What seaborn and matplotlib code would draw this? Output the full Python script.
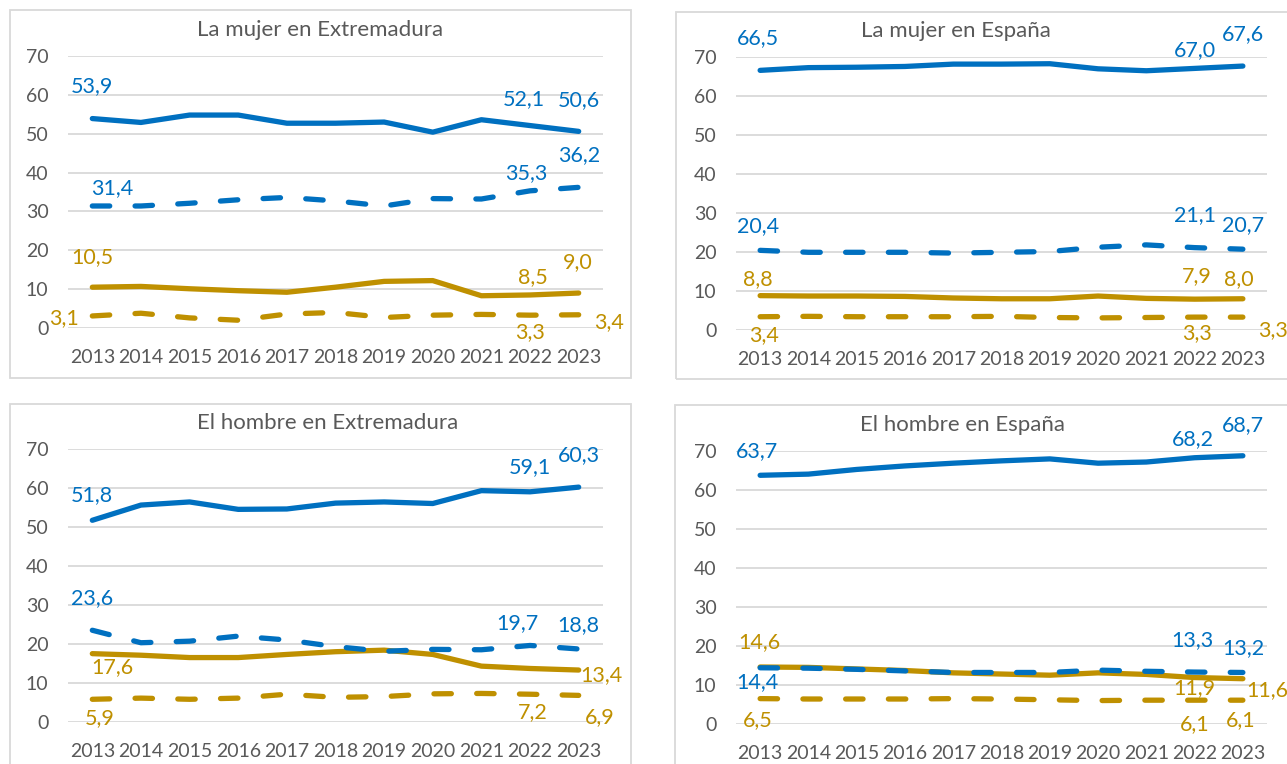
import pandas as pd
import seaborn as sns
import matplotlib.pyplot as plt
from matplotlib.patches import Rectangle

anios = list(range(2013, 2024))
titulos = ['La mujer en Extremadura', 'La mujer en España',
           'El hombre en Extremadura', 'El hombre en España']
ticks_y = [0, 10, 20, 30, 40, 50, 60, 70]

# La mujer en Extremadura
mujer_ext_azul = [53.9, 52.9, 54.8, 54.8, 52.7, 52.7, 53.0, 50.4, 53.6, 52.1, 50.6]
mujer_ext_azul_disc = [31.4, 31.4, 32.1, 33.0, 33.6, 32.7, 31.4, 33.3, 33.2, 35.3, 36.2]
mujer_ext_oro = [10.5, 10.7, 10.1, 9.6, 9.2, 10.5, 12.0, 12.2, 8.3, 8.5, 9.0]
mujer_ext_oro_disc = [3.1, 3.8, 2.6, 2.0, 3.6, 4.0, 2.7, 3.3, 3.5, 3.3, 3.4]

# La mujer en España
mujer_esp_azul = [66.5, 67.2, 67.3, 67.5, 68.1, 68.1, 68.2, 66.9, 66.4, 67.0, 67.6]
mujer_esp_azul_disc = [20.4, 19.9, 19.9, 19.9, 19.7, 19.9, 20.1, 21.2, 21.8, 21.1, 20.7]
mujer_esp_oro = [8.8, 8.7, 8.7, 8.6, 8.2, 8.0, 8.0, 8.7, 8.1, 7.9, 8.0]
mujer_esp_oro_disc = [3.4, 3.5, 3.4, 3.4, 3.4, 3.5, 3.2, 3.1, 3.2, 3.3, 3.3]

# El hombre en Extremadura
hombre_ext_azul = [51.8, 55.7, 56.5, 54.6, 54.7, 56.2, 56.5, 56.1, 59.4, 59.1, 60.3]
hombre_ext_azul_disc = [23.6, 20.4, 20.8, 22.1, 21.1, 19.4, 18.2, 18.7, 18.6, 19.7, 18.8]
hombre_ext_oro = [17.6, 17.2, 16.6, 16.6, 17.4, 18.1, 18.5, 17.4, 14.4, 13.8, 13.4]
hombre_ext_oro_disc = [5.9, 6.2, 5.9, 6.2, 7.2, 6.4, 6.6, 7.3, 7.4, 7.2, 6.9]

# El hombre en España
hombre_esp_azul = [63.7, 64.0, 65.2, 66.1, 66.8, 67.4, 67.9, 66.8, 67.1, 68.2, 68.7]
hombre_esp_azul_disc = [14.4, 14.3, 14.0, 13.6, 13.2, 13.2, 13.2, 13.8, 13.5, 13.3, 13.2]
hombre_esp_oro = [14.6, 14.5, 14.1, 13.7, 13.1, 12.8, 12.5, 13.1, 12.7, 11.9, 11.6]
hombre_esp_oro_disc = [6.5, 6.4, 6.4, 6.4, 6.5, 6.4, 6.2, 6.0, 6.1, 6.1, 6.1]

paneles = [
    [mujer_ext_azul, mujer_ext_azul_disc, mujer_ext_oro, mujer_ext_oro_disc],
    [mujer_esp_azul, mujer_esp_azul_disc, mujer_esp_oro, mujer_esp_oro_disc],
    [hombre_ext_azul, hombre_ext_azul_disc, hombre_ext_oro, hombre_ext_oro_disc],
    [hombre_esp_azul, hombre_esp_azul_disc, hombre_esp_oro, hombre_esp_oro_disc],
]

AZUL = '#0070C0'
ORO = '#BF9000'
GRIS = '#595959'
REJILLA = '#D9D9D9'
colores = [AZUL, AZUL, ORO, ORO]
discontinua = [False, True, False, True]

# where each data label sits: (serie, punto, dx px, dy px)
etiquetas = [
    [(0, 0, 0, 32), (0, 9, -6, 26), (0, 10, 0, 31),
     (1, 0, 20, 18), (1, 9, -4, 18), (1, 10, 0, 32),
     (2, 0, 0, 30), (2, 9, 3, 18), (2, 10, -1, 31),
     (3, 0, -28, -2), (3, 9, 0, -17), (3, 10, 30, -7)],
    [(0, 0, -2, 32), (0, 9, 0, 18), (0, 10, 0, 32),
     (1, 0, -2, 24), (1, 9, 0, 33), (1, 10, 0, 24),
     (2, 0, -2, 17), (2, 9, 2, 23), (2, 10, -4, 20),
     (3, 0, 4, -18), (3, 9, 2, -16), (3, 10, 30, -13)],
    [(0, 0, 0, 25), (0, 9, 0, 25), (0, 10, 0, 32),
     (1, 0, 0, 32), (1, 9, -13, 22), (1, 10, 0, 24),
     (2, 0, 20, -13), (2, 10, 23, -5),
     (3, 0, 7, -19), (3, 9, 3, -18), (3, 10, 21, -22)],
    [(0, 0, -3, 24), (0, 9, -2, 19), (0, 10, 0, 31),
     (1, 0, -3, -14), (1, 9, -2, 32), (1, 10, 0, 24),
     (2, 0, -1, 25), (2, 9, 0, -11), (2, 10, 24, -11),
     (3, 0, -2, -21), (3, 9, 0, -24), (3, 10, -2, -20)],
]

W, H = 1287, 764
# plot areas in pixels: left, right, top, bottom
areas = [(68, 603, 56, 328), (736, 1267, 56.7, 330),
         (68, 603, 449.3, 722.3), (736, 1267, 450.7, 724)]
cajas = [(10, 631, 10, 378), (676, 1300, 12, 379),
         (10, 631, 404, 790), (675, 1300, 405, 790)]
pos_titulos = [(320, 30), (956, 31), (328, 423), (963, 425)]

sns.set_style('white')
plt.rcParams['font.family'] = ['Lato', 'DejaVu Sans']

fig = plt.figure(figsize=(W / 100, H / 100), dpi=100)

for (x0, x1, y0, y1) in cajas:
    fig.patches.append(Rectangle((x0 / W, 1 - y1 / H), (x1 - x0) / W, (y1 - y0) / H,
                                 transform=fig.transFigure, fill=False,
                                 edgecolor=REJILLA, linewidth=1.3))

for p, series in enumerate(paneles):
    l, r, t, b = areas[p]
    ax = fig.add_axes([l / W, 1 - b / H, (r - l) / W, (b - t) / H])
    orden = [2, 3, 0, 1]
    for s in orden:
        df = pd.DataFrame({'anio': anios, 'valor': series[s]})
        estilo = dict(linestyle=(0, (3.3, 4.8)), dash_capstyle='round') if discontinua[s] \
            else dict(solid_capstyle='round', solid_joinstyle='round')
        sns.lineplot(data=df, x='anio', y='valor', ax=ax, color=colores[s],
                     linewidth=3.8, legend=False, **estilo)
    for s, i, dx, dy in etiquetas[p]:
        txt = f'{series[s][i]:.1f}'.replace('.', ',')
        ax.annotate(txt, (anios[i], series[s][i]), xytext=(dx, dy),
                    textcoords='offset pixels', ha='center', va='center',
                    color=colores[s], fontsize=15.5, annotation_clip=False)
    ax.set_xlim(2012.5, 2023.5)
    ax.set_ylim(0, 70)
    ax.set_yticks(ticks_y)
    ax.set_xticks(anios)
    ax.set_xticklabels([str(a) for a in anios])
    ax.grid(axis='y', color=REJILLA, linewidth=1.3)
    ax.set_axisbelow(True)
    ax.tick_params(axis='y', length=0, pad=14, labelsize=14, labelcolor=GRIS)
    ax.tick_params(axis='x', length=0, pad=15, labelsize=14, labelcolor=GRIS)
    ax.set_xlabel('')
    ax.set_ylabel('')
    sns.despine(ax=ax, left=True, bottom=True)
    tx, ty = pos_titulos[p]
    fig.text(tx / W, 1 - ty / H, titulos[p], ha='center', va='center',
             fontsize=16, color=GRIS)

fig.savefig('out.png', dpi=100)
